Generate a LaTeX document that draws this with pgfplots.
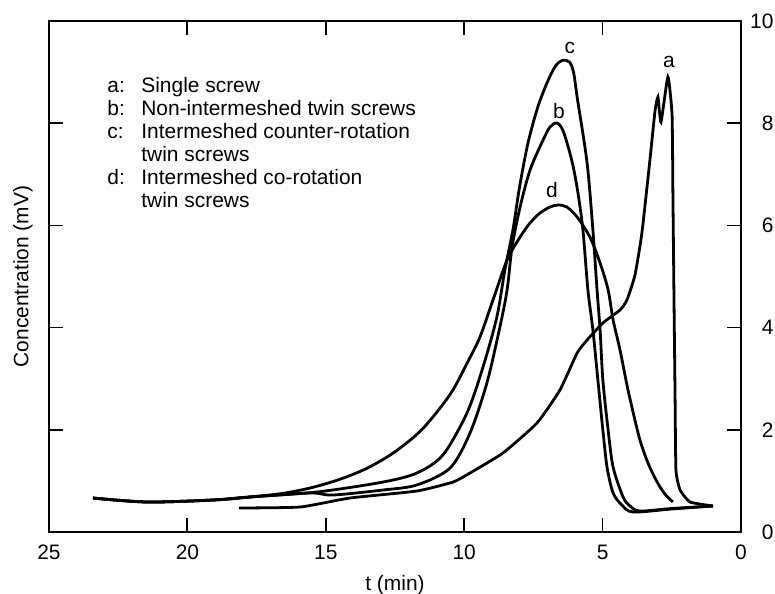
\documentclass[border=0pt]{standalone}
\usepackage{fontspec}
\setmainfont{Liberation Sans}
\usepackage{pgfplots}
\pgfplotsset{compat=1.18}
\begin{document}
\fontsize{10.5}{12}\selectfont
\begin{tikzpicture}
\begin{axis}[
  scale only axis, width=346bp, height=255.5bp,
  xmin=0, xmax=25, ymin=0, ymax=10, x dir=reverse,
  axis line style={line width=0.9pt},
  every tick/.style={line width=0.9pt, black},
  tick align=inside, major tick length=7bp,
  xtick={0,5,10,15,20,25}, ytick={0,2,4,6,8,10},
  xtick pos=both, ytick pos=both,
  xticklabel pos=lower, yticklabel pos=right,
  /pgf/number format/assume math mode=true,
  ticklabel style={font=\fontsize{10.5}{12}\selectfont},
  xticklabel style={yshift=-3bp},
  yticklabel style={anchor=west, inner sep=0pt, xshift=4.3bp, text width=11.7bp, align=right},
  xlabel={t (min)}, ylabel={Concentration (mV)},
  xlabel style={at={(axis description cs:0.5,-0.1037)}, anchor=center, font=\fontsize{10.5}{12}\selectfont},
  ylabel style={at={(axis description cs:-0.0376,0.5)}, anchor=center, font=\fontsize{10.5}{12}\selectfont},
  clip=false,
]
% d: intermeshed co-rotation
\addplot[black, line width=1.4pt, smooth, tension=0.5] coordinates {
(23.41,0.665) (21.46,0.587) (19.08,0.626) (17.74,0.685) (16.5,0.76) (15.5,0.87) (14.5,1.03) (13.5,1.25) (12.5,1.57) (11.5,2.02) (10.5,2.70) (9.90,3.30) (9.43,3.816) (8.96,4.540) (8.45,5.323) (7.98,5.773) (7.62,6.047) (7.26,6.243) (6.90,6.360) (6.61,6.399) (6.29,6.360) (5.92,6.164) (5.46,5.773) (5.09,5.264) (4.80,4.736) (4.62,4.149) (4.37,3.562) (4.12,2.877) (3.90,2.348) (3.65,1.800) (3.36,1.350) (3.03,0.978) (2.75,0.744) (2.46,0.587)
};
% c: intermeshed counter-rotation
\addplot[black, line width=1.4pt, smooth, tension=0.5] coordinates {
(23.41,0.665) (21.46,0.587) (19.08,0.626) (17.74,0.685) (15.32,0.783) (12.93,0.978) (11.71,1.155) (10.77,1.507) (9.90,2.329) (9.32,3.229) (8.82,4.207) (8.53,5.127) (8.24,5.910) (8.00,6.75) (7.70,7.60) (7.35,8.30) (7.00,8.80) (6.70,9.12) (6.45,9.23) (6.20,9.20) (6.05,9.00) (5.92,8.513) (5.56,7.221) (5.35,5.910) (5.20,4.736) (5.09,3.953) (4.99,2.975) (4.80,1.996) (4.62,1.272) (4.26,0.685) (4.01,0.509) (3.65,0.411) (2.5,0.46) (1.01,0.509)
};
% b: non-intermeshed twin screws
\addplot[black, line width=1.4pt, smooth, tension=0.5] coordinates {
(23.41,0.665) (21.46,0.587) (19.08,0.626) (17.74,0.685) (15.57,0.763) (14.74,0.724) (12.93,0.822) (11.71,0.920) (10.51,1.252) (9.79,1.937) (9.18,2.916) (8.71,4.012) (8.45,4.736) (8.27,5.577) (7.98,6.360) (7.62,7.084) (7.15,7.671) (6.90,7.926) (6.65,8.004) (6.45,7.88) (6.25,7.55) (6.05,7.12) (5.88,6.60) (5.71,5.910) (5.53,4.736) (5.35,3.953) (5.17,2.975) (4.99,1.996) (4.84,1.272) (4.62,0.763) (4.30,0.528) (3.90,0.391) (2.5,0.45) (1.01,0.509)
};
% a: single screw
\addplot[black, line width=1.4pt, smooth, tension=0.3] coordinates {
(18.14,0.470) (15.93,0.489) (14.13,0.665) (11.71,0.802) (10.40,0.978) (9.79,1.155) (8.60,1.546) (7.37,2.133) (6.54,2.779) (5.92,3.503) (5.56,3.757) (4.99,4.090) (4.37,4.344) (4.12,4.540) (3.83,5.029) (3.58,5.851) (3.29,7.280) (3.11,8.219) (3.00,8.513) (2.89,8.023) (2.64,8.904) (2.49,8.160) (2.46,6.634) (2.42,4.540) (2.38,2.583) (2.35,1.213) (2.20,0.822) (1.84,0.587) (1.01,0.509)
};
\node at (axis cs:6.18,9.47) {c};
\node at (axis cs:2.60,9.20) {a};
\node at (axis cs:6.58,8.24) {b};
\node at (axis cs:6.83,6.69) {d};
\node[anchor=base west, inner sep=0pt] at ([xshift=29bp,yshift=-36bp]rel axis cs:0,1) {%
\fontsize{10.5}{11.5}\selectfont
\begin{tabular}[t]{@{}p{17bp}@{}l@{}}
a: & Single screw\\
b: & Non-intermeshed twin screws\\
c: & Intermeshed counter-rotation\\
   & twin screws\\
d: & Intermeshed co-rotation\\
   & twin screws
\end{tabular}};
\end{axis}
\pgfresetboundingbox
\path (current axis.south west) ++(-24.5bp,-31bp);
\path (current axis.north east) ++(17bp,10.5bp);
\end{tikzpicture}
\end{document}
